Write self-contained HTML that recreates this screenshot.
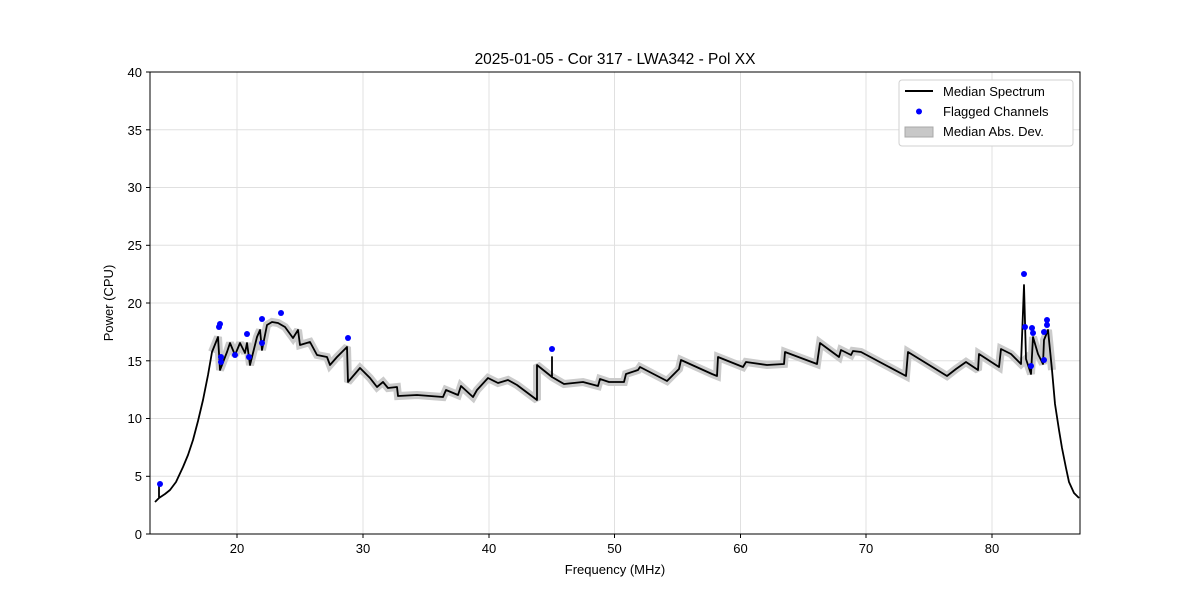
<!DOCTYPE html>
<html><head><meta charset="utf-8"><style>
body{margin:0;background:#fff;}
svg text{font-family:"Liberation Sans","DejaVu Sans",sans-serif;fill:#000;}
</style></head><body>
<svg width="1200" height="600" xmlns="http://www.w3.org/2000/svg">
<rect width="1200" height="600" fill="#fff"/>
<g stroke="#e0e0e0" stroke-width="1">
<line x1="237" y1="72" x2="237" y2="534"/><line x1="363" y1="72" x2="363" y2="534"/><line x1="489" y1="72" x2="489" y2="534"/><line x1="614.5" y1="72" x2="614.5" y2="534"/><line x1="740.5" y1="72" x2="740.5" y2="534"/><line x1="866" y1="72" x2="866" y2="534"/><line x1="992" y1="72" x2="992" y2="534"/>
<line x1="150" y1="476.3" x2="1080" y2="476.3"/><line x1="150" y1="418.5" x2="1080" y2="418.5"/><line x1="150" y1="360.8" x2="1080" y2="360.8"/><line x1="150" y1="303" x2="1080" y2="303"/><line x1="150" y1="245.3" x2="1080" y2="245.3"/><line x1="150" y1="187.5" x2="1080" y2="187.5"/><line x1="150" y1="129.8" x2="1080" y2="129.8"/>
</g>
<polyline fill="none" stroke="#cbcbcb" stroke-width="8" stroke-linejoin="miter" stroke-miterlimit="2" points="212,352 218,337 220,370 227,352 230,343 235,355 240,343 245,353 247,343 250,365 257,337 260,330 262,350 267,325 272,322 278,323 285,327 293,338 298,330 300,345 310,342 317,355 327,357 330,365 337,357 347,347 348,382 360,368 370,378 377,387 383,382 388,388 397,387 398,396 417,395 443,397 446,390 458,395 461,386 473,397 477,390 488,378 498,383 508,380 517,385 537,400 537,365 552,377 564,384 583,382 598,386 600,379 609,382 624,382 626,374 638,370 640,367 667,381 679,369 681,360 712,374 717,376 718,357 743,367 746,362 767,365 784,364 785,352 817,364 820,343 839,357 841,350 851,355 853,351 861,352 906,376 908,352 947,376 956,369 966,362 978,370 979,354 999,367 1001,349 1011,354 1021,364 1026,359 1031,374 1033,337 1038,354 1043,364 1044,340 1048,330 1052,370"/>
<polyline fill="none" stroke="#000" stroke-width="1.8" stroke-linejoin="round" points="155,502 159,498 159,484 159,498 165,494 170,490 176,482 183,467 188,455 193,440 198,421 203,400 208,375 212,352 218,337 220,370 227,352 230,343 235,355 240,343 245,353 247,343 250,365 257,337 260,330 262,350 267,325 272,322 278,323 285,327 293,338 298,330 300,345 310,342 317,355 327,357 330,365 337,357 347,347 348,382 360,368 370,378 377,387 383,382 388,388 397,387 398,396 417,395 443,397 446,390 458,395 461,386 473,397 477,390 488,378 498,383 508,380 517,385 537,400 537,365 552,377 552,357 552,377 564,384 583,382 598,386 600,379 609,382 624,382 626,374 638,370 640,367 667,381 679,369 681,360 712,374 717,376 718,357 743,367 746,362 767,365 784,364 785,352 817,364 820,343 839,357 841,350 851,355 853,351 861,352 906,376 908,352 947,376 956,369 966,362 978,370 979,354 999,367 1001,349 1011,354 1021,364 1024,285 1026,359 1031,374 1033,337 1038,354 1043,364 1044,340 1048,330 1052,370 1055,404 1059,430 1062,448 1066,468 1069,482 1074,493 1079,498"/>
<g fill="#0000ff">
<circle cx="160" cy="484" r="3"/><circle cx="220" cy="324" r="3"/><circle cx="219" cy="327" r="3"/><circle cx="221" cy="362" r="3"/><circle cx="221" cy="357" r="3"/><circle cx="235" cy="355" r="3"/><circle cx="247" cy="334" r="3"/><circle cx="249" cy="357" r="3"/><circle cx="262" cy="319" r="3"/><circle cx="262" cy="343" r="3"/><circle cx="281" cy="313" r="3"/><circle cx="348" cy="338" r="3"/><circle cx="552" cy="349" r="3"/><circle cx="1024" cy="274" r="3"/><circle cx="1025" cy="327" r="3"/><circle cx="1032" cy="328" r="3"/><circle cx="1033" cy="333" r="3"/><circle cx="1031" cy="366" r="3"/><circle cx="1044" cy="360" r="3"/><circle cx="1044" cy="332" r="3"/><circle cx="1047" cy="325" r="3"/><circle cx="1047" cy="320" r="3"/>
</g>
<rect x="150" y="72" width="930" height="462" fill="none" stroke="#000" stroke-width="1"/>
<g stroke="#000" stroke-width="1">
<line x1="237" y1="534" x2="237" y2="538"/><line x1="363" y1="534" x2="363" y2="538"/><line x1="489" y1="534" x2="489" y2="538"/><line x1="614.5" y1="534" x2="614.5" y2="538"/><line x1="740.5" y1="534" x2="740.5" y2="538"/><line x1="866" y1="534" x2="866" y2="538"/><line x1="992" y1="534" x2="992" y2="538"/>
<line x1="146" y1="534" x2="150" y2="534"/><line x1="146" y1="476.3" x2="150" y2="476.3"/><line x1="146" y1="418.5" x2="150" y2="418.5"/><line x1="146" y1="360.8" x2="150" y2="360.8"/><line x1="146" y1="303" x2="150" y2="303"/><line x1="146" y1="245.3" x2="150" y2="245.3"/><line x1="146" y1="187.5" x2="150" y2="187.5"/><line x1="146" y1="129.8" x2="150" y2="129.8"/><line x1="146" y1="72" x2="150" y2="72"/>
</g>
<g font-size="13" text-anchor="middle">
<text x="237" y="553">20</text><text x="363" y="553">30</text><text x="489" y="553">40</text><text x="614.5" y="553">50</text><text x="740.5" y="553">60</text><text x="866" y="553">70</text><text x="992" y="553">80</text>
</g>
<g font-size="13" text-anchor="end">
<text x="142" y="539">0</text><text x="142" y="481">5</text><text x="142" y="423">10</text><text x="142" y="366">15</text><text x="142" y="308">20</text><text x="142" y="250">25</text><text x="142" y="192">30</text><text x="142" y="135">35</text><text x="142" y="77">40</text>
</g>
<text x="615" y="574" font-size="13" text-anchor="middle">Frequency (MHz)</text>
<text x="113" y="303" font-size="13" text-anchor="middle" transform="rotate(-90 113 303)">Power (CPU)</text>
<text x="615" y="64" font-size="15.5" text-anchor="middle">2025-01-05 - Cor 317 - LWA342 - Pol XX</text>
<rect x="899" y="80" width="174" height="66" rx="3" fill="#fff" stroke="#d0d0d0"/>
<line x1="905" y1="91" x2="933" y2="91" stroke="#000" stroke-width="2"/>
<circle cx="919" cy="111.5" r="3" fill="#0000ff"/>
<rect x="905" y="127" width="28" height="10" fill="#c8c8c8" stroke="#a8a8a8"/>
<g font-size="13"><text x="943" y="96">Median Spectrum</text><text x="943" y="116">Flagged Channels</text><text x="943" y="136">Median Abs. Dev.</text></g>
</svg>
</body></html>
